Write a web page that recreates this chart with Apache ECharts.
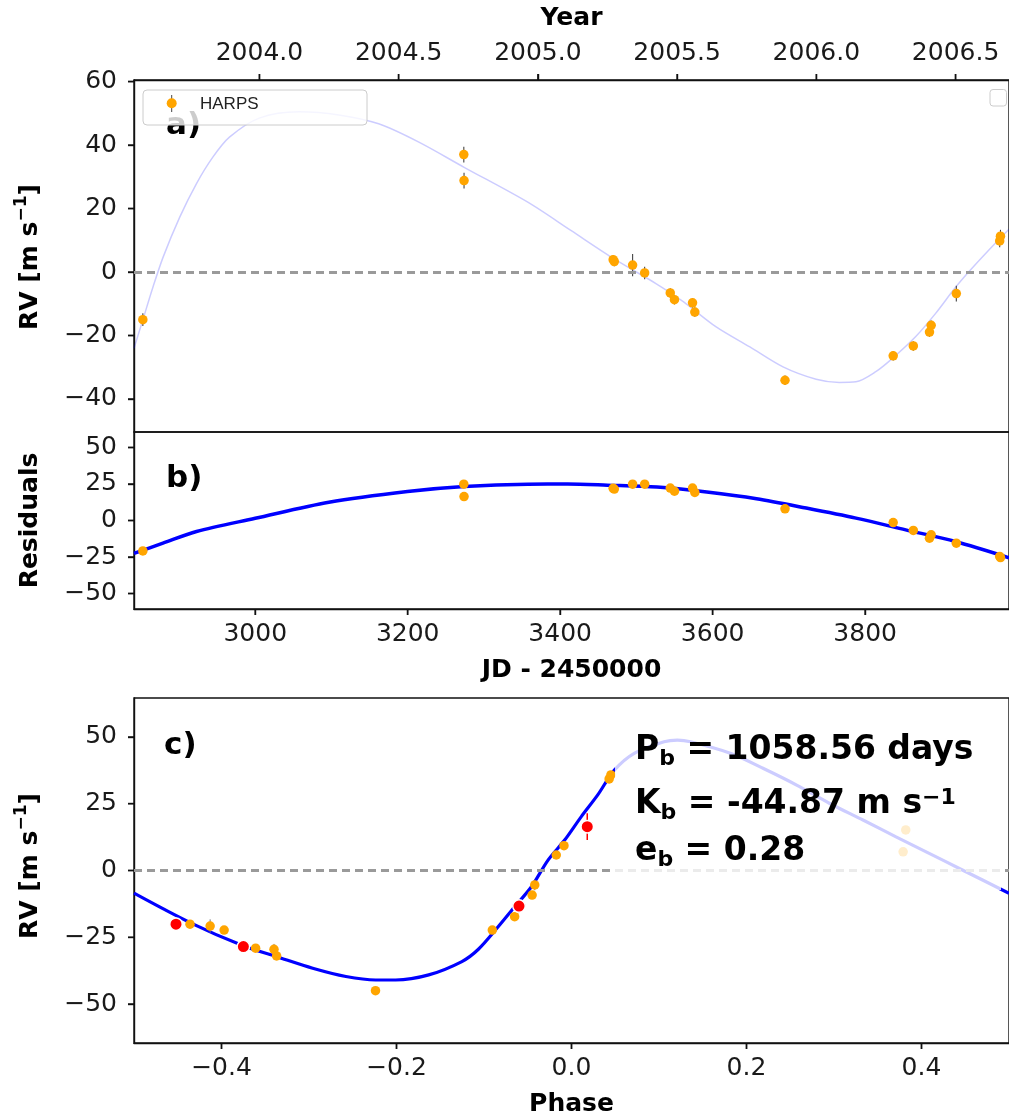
<!DOCTYPE html>
<html>
<head>
<meta charset="utf-8">
<script src="https://cdn.jsdelivr.net/npm/echarts@6.0.0/dist/echarts.min.js"></script>
<style>
html,body{margin:0;padding:0;background:#fff;}
#chart{width:1009px;height:1119px;}
</style>
</head>
<body>
<div id="chart"></div>
<script>
// ---------------- data ----------------
// Panel a / b : HARPS measurements, JD - 2450000
const jd     = [2852.6, 3273.6, 3273.9, 3469.5, 3471.0, 3495.0, 3510.8, 3544.4, 3549.9, 3573.6, 3576.6, 3694.9, 3836.8, 3863.2, 3884.4, 3886.6, 3919.6, 3976.5, 3977.5];
const rv     = [-15.0, 37.0, 28.8, 3.9, 3.3, 2.2, -0.3, -6.6, -8.7, -9.7, -12.6, -34.1, -26.4, -23.3, -18.9, -16.8, -6.8, 9.8, 11.3];
const rvErr  = [2.0, 2.5, 2.5, 1.5, 1.5, 3.5, 2.0, 1.5, 1.5, 1.5, 1.5, 1.5, 1.5, 1.5, 1.5, 1.5, 2.5, 2.0, 2.0];
const resid  = [-20.8, 24.9, 16.4, 22.0, 21.5, 24.9, 24.9, 22.2, 20.1, 22.2, 19.2, 8.0, -1.4, -6.8, -12.1, -9.8, -15.5, -24.6, -25.4];

// Panel a : faint Keplerian model
const modelJd = [2841, 2852.7, 2865.4, 2879.2, 2901.0, 2922.8, 2944.4, 2966.2, 3005.3, 3057.5, 3109.7, 3161.9, 3214.0, 3274.0, 3357.5, 3414.0, 3469.7, 3526.1, 3561.9, 3604.6, 3648.8, 3692.3, 3735.7, 3766.1, 3787.9, 3814.0, 3835.8, 3866.1, 3892.2, 3917.3, 3935.7, 3961.7, 3988.7];
const modelRv = [-24.0, -15.0, -5.1, 4.7, 17.3, 27.8, 36.2, 42.5, 48.5, 50.5, 49.5, 46.7, 41.0, 33.0, 22.0, 13.1, 4.3, -3.7, -9.4, -17.3, -23.6, -29.9, -33.8, -34.8, -34.6, -31.4, -27.2, -20.4, -13.1, -5.2, 0.0, 6.8, 13.5];

// Panel b : residual trend curve
const trendJd  = [2841, 2879, 2923, 3000, 3096.6, 3199.7, 3274, 3357.5, 3409.7, 3461.8, 3527, 3592.3, 3657.5, 3722.7, 3788, 3853.2, 3918.4, 3988.7];
const trendRes = [-22.5, -15.5, -7.5, 1.5, 12.5, 19.9, 23.3, 24.9, 25.0, 24.2, 22.9, 19.5, 14.9, 8.5, 1.6, -6.4, -14.4, -25.5];

// Panel c : phase-folded data
const phaseOrange = [-0.436, -0.413, -0.397, -0.361, -0.340, -0.337, -0.224, -0.0905, -0.065, -0.045, -0.042, -0.0174, -0.0086, 0.043, 0.045, 0.379, 0.382];
const rvOrange    = [-20.1, -20.8, -22.3, -29.1, -29.5, -32.0, -45.0, -22.3, -17.3, -9.2, -5.4, 5.8, 9.3, 34.3, 35.8, 7.0, 15.2];
const errOrange   = [1.5, 2.5, 1.5, 1.5, 2.0, 1.5, 1.5, 1.5, 1.5, 1.5, 2.0, 1.5, 1.5, 1.5, 1.5, 1.5, 1.5];
const phaseRed = [-0.452, -0.375, -0.060, 0.018];
const rvRed    = [-20.1, -28.5, -13.3, 16.4];
const errRed   = [2.0, 2.0, 2.5, 5.0];

// Panel c : phased model curve
const phaseModel = [-0.5, -0.436, -0.3745, -0.3367, -0.2958, -0.2578, -0.2238, -0.201, -0.1632, -0.1253, -0.1064, -0.0836, -0.0647, -0.0458, -0.0268, -0.0078, 0.011, 0.030, 0.049, 0.0717, 0.1058, 0.121, 0.136, 0.1815, 0.2194, 0.2573, 0.2951, 0.3331, 0.3709, 0.4088, 0.4467, 0.5];
const rvModelC   = [-8.5, -19.5, -28.3, -32.3, -36.6, -39.7, -41.0, -41.0, -39.1, -34.1, -29.5, -21.0, -13.5, -6.1, 3.9, 11.4, 20.1, 28.3, 37.6, 43.9, 48.2, 48.8, 48.2, 43.9, 38.2, 32.0, 25.1, 18.9, 12.6, 6.4, 0.2, -8.5];

// Tick labels
const yearTicks  = [2004.0, 2004.5, 2005.0, 2005.5, 2006.0, 2006.5];
const jdTicks    = [3000, 3200, 3400, 3600, 3800];
const rvTicksA   = [-40, -20, 0, 20, 40, 60];
const resTicks   = [-50, -25, 0, 25, 50];
const rvTicksC   = [-50, -25, 0, 25, 50];
const phaseTicks = [-0.4, -0.2, 0.0, 0.2, 0.4];

// Annotation texts
const annPeriod = '1058.56 days';
const annK      = '-44.87 m s';
const annE      = '0.28';

// ---------------- chart ----------------
const F = '"DejaVu Sans", sans-serif';
const JD_MIN = 2841, JD_MAX = 3988.7, JD_2004 = 3005.5;
const toYear = j => 2004 + (j - JD_2004) / 365.25;
const fmt = d => v => { const s = Math.abs(v).toFixed(d); return (v < 0 ? '\u2212' : '') + s; };
const pairs = (xs, ys) => xs.map((x, i) => [x, ys[i]]);
const triples = (xs, ys, es) => xs.map((x, i) => [x, ys[i], es[i]]);
const TICK_LEN = 6, TICK_COLOR = '#111';
const GRIDS = [
  {left: 134, top: 80,  width: 880, height: 352},
  {left: 134, top: 432, width: 880, height: 177},
  {left: 134, top: 698, width: 880, height: 345}
];

function axis(gridIndex, position, min, max, ticks, formatter, margin, extra) {
  return Object.assign({
    type: 'value', gridIndex, position, min, max,
    axisLine: {show: true, onZero: false, lineStyle: {color: '#111', width: 1.4}},
    splitLine: {show: false},
    axisTick: {show: true, inside: false, length: TICK_LEN, customValues: ticks, lineStyle: {color: TICK_COLOR, width: 1.4}},
    axisLabel: {show: true, customValues: ticks, formatter, margin, fontFamily: F, fontSize: 25, color: '#1a1a1a'}
  }, extra || {});
}
const nameStyle = {fontFamily: F, fontSize: 25, fontWeight: 'bold', color: '#000'};

function errorBars(xi, yi, data, color, width, z) {
  return {
    type: 'custom', xAxisIndex: xi, yAxisIndex: yi, z, silent: true, clip: true,
    data, encode: {x: 0, y: 1},
    renderItem(params, api) {
      const x = api.value(0), y = api.value(1), e = api.value(2);
      const a = api.coord([x, y - e]), b = api.coord([x, y + e]);
      return {type: 'line', shape: {x1: a[0], y1: a[1], x2: b[0], y2: b[1]}, style: {stroke: color, lineWidth: width}};
    }
  };
}
const zeroLine = {
  silent: true, symbol: ['none', 'none'], label: {show: false}, animation: false,
  lineStyle: {type: [8, 5], color: '#9a9a9a', width: 3}, data: [{yAxis: 0}]
};

const B = 'bold ';
function tag(x, yc, text, z) {
  return {type: 'text', x, y: yc, z, silent: true,
    style: {text, font: B + '31px ' + F, fill: '#000', align: 'left', verticalAlign: 'middle'}};
}
const annRich = {
  m:  {font: B + '33px ' + F, fill: '#000', lineHeight: 40, verticalAlign: 'middle'},
  sb: {font: B + '22px ' + F, fill: '#000', verticalAlign: 'bottom'},
  sp: {font: B + '22px ' + F, fill: '#000', height: 28, verticalAlign: 'top'}
};
function annLine(top, text) {
  return {type: 'text', x: 635, y: top, z: 22, silent: true,
    style: {text, rich: annRich, fill: '#000', align: 'left', verticalAlign: 'top'}};
}
const yRich = {
  m: {font: B + '25px ' + F, fill: '#000', lineHeight: 32, verticalAlign: 'middle'},
  s: {font: B + '17px ' + F, fill: '#000', height: 15, verticalAlign: 'top'}
};
function yLabel(yc, text) {
  return {type: 'text', x: 30.5, y: yc, rotation: Math.PI / 2, z: 22, silent: true,
    style: {text, rich: yRich, fill: '#000', align: 'center', verticalAlign: 'middle'}};
}

const gridOpt = g => Object.assign({show: true, borderColor: '#111', borderWidth: 1.4, backgroundColor: 'transparent'}, g);

const option = {
  animation: false,
  backgroundColor: '#fff',
  grid: GRIDS.map(gridOpt),
  xAxis: [
    {type: 'value', gridIndex: 0, min: JD_MIN, max: JD_MAX, show: false},
    axis(0, 'top', toYear(JD_MIN), toYear(JD_MAX), yearTicks, fmt(1), 14,
      {name: 'Year', nameLocation: 'middle', nameGap: 49, nameTextStyle: nameStyle}),
    axis(1, 'bottom', JD_MIN, JD_MAX, jdTicks, v => String(Math.round(v)), 13,
      {name: 'JD - 2450000', nameLocation: 'middle', nameGap: 49, nameTextStyle: nameStyle}),
    axis(2, 'bottom', -0.5, 0.5, phaseTicks, fmt(1), 13,
      {name: 'Phase', nameLocation: 'middle', nameGap: 49, nameTextStyle: nameStyle})
  ],
  yAxis: [
    axis(0, 'left', -50.4, 60.5, rvTicksA, fmt(0), 17),
    axis(1, 'left', -60.6, 60.6, resTicks, fmt(0), 17),
    axis(2, 'left', -64.6, 64.6, rvTicksC, fmt(0), 17)
  ],
  series: [
    // panel a
    {type: 'line', xAxisIndex: 0, yAxisIndex: 0, data: pairs(modelJd, modelRv), smooth: 0.3, symbol: 'none',
      lineStyle: {color: 'rgba(0,0,255,0.2)', width: 1.5}, z: 1, silent: true, markLine: zeroLine},
    errorBars(0, 0, triples(jd, rv, rvErr), '#444', 1.1, 3),
    {type: 'scatter', name: 'HARPS', xAxisIndex: 0, yAxisIndex: 0, data: pairs(jd, rv), symbol: 'circle', symbolSize: 9.5,
      itemStyle: {color: '#ffa500', opacity: 1}, z: 5},
    // panel b
    {type: 'line', xAxisIndex: 2, yAxisIndex: 1, data: pairs(trendJd, trendRes), smooth: 0.3, symbol: 'none',
      lineStyle: {color: '#0000ff', width: 3.5}, z: 2, silent: true},
    {type: 'scatter', xAxisIndex: 2, yAxisIndex: 1, data: pairs(jd, resid), symbol: 'circle', symbolSize: 9.5,
      itemStyle: {color: '#ffa500', opacity: 1}, z: 5},
    // panel c
    {type: 'line', xAxisIndex: 3, yAxisIndex: 2, data: pairs(phaseModel, rvModelC), smooth: 0.3, symbol: 'none',
      lineStyle: {color: '#0000ff', width: 3.2}, z: 2, silent: true, markLine: zeroLine},
    errorBars(3, 2, triples(phaseOrange, rvOrange, errOrange), '#777', 1, 3),
    {type: 'scatter', xAxisIndex: 3, yAxisIndex: 2, data: pairs(phaseOrange, rvOrange), symbol: 'circle', symbolSize: 9.5,
      itemStyle: {color: '#ffa500', opacity: 1}, z: 5},
    errorBars(3, 2, triples(phaseRed, rvRed, errRed), '#ff0000', 1.5, 6),
    {type: 'scatter', xAxisIndex: 3, yAxisIndex: 2, data: pairs(phaseRed, rvRed), symbol: 'circle', symbolSize: 12.5,
      itemStyle: {color: '#ff0000', borderColor: '#fff', borderWidth: 1.5, opacity: 1}, z: 7}
  ],
  graphic: [
    tag(166, 126.3, 'a)', 15),
    // legend (upper left) and empty legend frame (upper right)
    {type: 'rect', z: 20, silent: true, shape: {x: 143, y: 90, width: 224, height: 35, r: 4},
      style: {fill: 'rgba(255,255,255,0.8)', stroke: '#cccccc', lineWidth: 1}},
    {type: 'line', z: 21, silent: true, shape: {x1: 171.7, y1: 95, x2: 171.7, y2: 112}, style: {stroke: '#444', lineWidth: 1}},
    {type: 'circle', z: 22, silent: true, shape: {cx: 171.7, cy: 103.3, r: 5}, style: {fill: '#ffa500'}},
    {type: 'text', z: 22, x: 200, y: 104.5, silent: true,
      style: {text: 'HARPS', font: '17px "Liberation Sans", Arial, sans-serif', fill: '#222', align: 'left', verticalAlign: 'middle'}},
    {type: 'rect', z: 20, silent: true, shape: {x: 990, y: 89.5, width: 16.5, height: 16.5, r: 3},
      style: {fill: 'rgba(255,255,255,0.8)', stroke: '#cccccc', lineWidth: 1}},
    tag(166, 479.3, 'b)', 22),
    tag(164, 746.3, 'c)', 22),
    // semi-transparent box behind the annotation
    {type: 'rect', z: 20, silent: true, shape: {x: 615, y: 713, width: 386, height: 177},
      style: {fill: 'rgba(255,255,255,0.8)'}},
    annLine(730.7, '{m|P}{sb|b}{m| = ' + annPeriod + '}'),
    annLine(784.2, '{m|K}{sb|b}{m| = ' + annK + '}{sp|\u22121}'),
    annLine(831.5, '{m|e}{sb|b}{m| = ' + annE + '}'),
    // rotated y-axis titles
    yLabel(257, '{m|RV [m s}{s|\u22121}{m|]}'),
    yLabel(520.5, '{m|Residuals}'),
    yLabel(866, '{m|RV [m s}{s|\u22121}{m|]}')
  ]
};

const chart = echarts.init(document.getElementById('chart'), null, {renderer: 'canvas'});
chart.setOption(option);

// outward tick marks, placed through the axes' scales
const tickEls = [];
function ticksX(axisIndex, values, g, side) {
  values.forEach(v => {
    const px = chart.convertToPixel({xAxisIndex: axisIndex}, v);
    const y0 = side === 'top' ? g.top : g.top + g.height;
    const y1 = side === 'top' ? y0 - TICK_LEN : y0 + TICK_LEN;
    tickEls.push({type: 'line', z: 25, silent: true, shape: {x1: px, y1: y0, x2: px, y2: y1},
      style: {stroke: TICK_COLOR, lineWidth: 1.5}});
  });
}
function ticksY(axisIndex, values, g) {
  values.forEach(v => {
    const py = chart.convertToPixel({yAxisIndex: axisIndex}, v);
    tickEls.push({type: 'line', z: 25, silent: true, shape: {x1: g.left - TICK_LEN, y1: py, x2: g.left, y2: py},
      style: {stroke: TICK_COLOR, lineWidth: 1.5}});
  });
}
ticksX(1, yearTicks, GRIDS[0], 'top');
ticksY(0, rvTicksA, GRIDS[0]);
ticksX(2, jdTicks, GRIDS[1], 'bottom');
ticksY(1, resTicks, GRIDS[1]);
ticksX(3, phaseTicks, GRIDS[2], 'bottom');
ticksY(2, rvTicksC, GRIDS[2]);
option.graphic = option.graphic.concat(tickEls);
chart.setOption(option, true);
</script>
</body>
</html>
